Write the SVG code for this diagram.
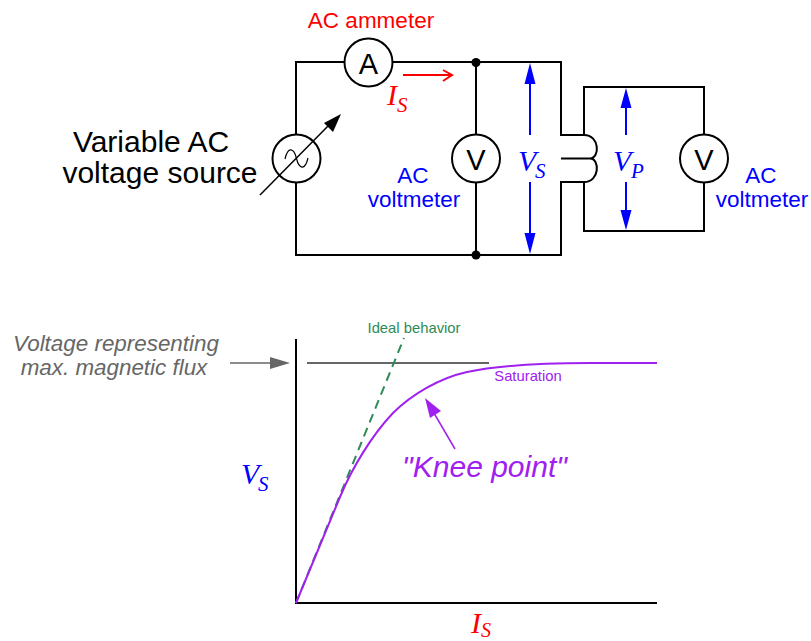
<svg xmlns="http://www.w3.org/2000/svg" width="811" height="641" viewBox="0 0 811 641">
<style>
text{font-family:"Liberation Sans",Arial,sans-serif}
.w{fill:none;stroke:#000;stroke-width:2}
.c{fill:#fff;stroke:#000;stroke-width:2}
.s{font-family:"Liberation Serif","Times New Roman",serif;font-style:italic}
.bl{fill:#0000ff}
.b{stroke:#0000ff;stroke-width:2;fill:none}
</style>
<rect width="811" height="641" fill="#fff"/>
<g id="connectors">
<path class="w" d="M345 62H296V255H561V182H584V231H704V182M704 135V87H584V135H561V62H393M476 62V137M476 182V255M561 158.500H590"/>
<path class="w" d="M584 135C600 135 600 158.500 590 158.500C600 158.500 600 182 584 182"/>
<circle cx="476" cy="62.500" r="4.500"/><circle cx="476" cy="255" r="4.500"/>
<path d="M403 75H452M443 70L452 75L443 81" fill="none" stroke="#ff0000" stroke-width="2"/>
<path class="b" d="M530 135V75M530 182V240M626 135V100M626 182V217"/>
<path class="bl" d="M530 63L524.500 84H535.500ZM530 254L524.500 233H535.500ZM626 88L620.500 108H631.500ZM626 230L620.500 210H631.500Z"/>
</g>
<g id="source"><circle class="c" cx="296.500" cy="158.500" r="24"/><path d="M285 159C288 146 294 148 296.500 158.500C299 169 305 171 308 158" fill="none" stroke="#000" stroke-width="1.200"/><path d="M260 195L330 124" stroke="#000" stroke-width="1.500" fill="none"/><path d="M341 114L324 123L333 132Z"/><text x="151" y="152" font-size="30" text-anchor="middle">Variable AC</text><text x="160" y="183" font-size="30" text-anchor="middle">voltage source</text></g>
<g id="ammeter"><circle class="c" cx="368.500" cy="62.500" r="24"/><text x="368.500" y="74" font-size="29" text-anchor="middle">A</text><text x="371" y="28" font-size="22.500" fill="#ff0000" text-anchor="middle">AC ammeter</text></g>
<g id="is-top"><text class="s" x="387" y="105" font-size="30" fill="#ff0000">I</text><text class="s" x="397" y="112" font-size="21" fill="#ff0000">S</text></g>
<g id="voltmeter-1"><circle class="c" cx="476" cy="158.500" r="24"/><text x="476" y="170" font-size="29" text-anchor="middle">V</text><text x="413" y="183" font-size="22.500" fill="#0000ff" text-anchor="middle">AC</text><text x="414" y="207" font-size="22.500" fill="#0000ff" text-anchor="middle">voltmeter</text></g>
<g id="vs-top"><text class="s bl" x="518" y="171" font-size="30">V</text><text class="s bl" x="535" y="178" font-size="21">S</text></g>
<g id="vp"><text class="s bl" x="613" y="171" font-size="30">V</text><text class="s bl" x="631" y="178" font-size="21">P</text></g>
<g id="voltmeter-2"><circle class="c" cx="704" cy="158.500" r="24"/><text x="704" y="170" font-size="29" text-anchor="middle">V</text><text x="761" y="183" font-size="22.500" fill="#0000ff" text-anchor="middle">AC</text><text x="762" y="207" font-size="22.500" fill="#0000ff" text-anchor="middle">voltmeter</text></g>
<g id="graph">
<path class="w" d="M296 339V603H657"/>
<path d="M307 363H489" stroke="#666" stroke-width="2" fill="none"/>
<path d="M230 363H272" stroke="#666" stroke-width="1.500" fill="none"/><path d="M290 363L270 357V369Z" fill="#666"/>
<path d="M296 603L404 338" stroke="#2e8b57" stroke-width="2" stroke-dasharray="9 6" fill="none"/>
<path d="M296 603L340 497C352 468 372 435 393 413C412 394 440 378 467 372C500 365 540 363 590 363H657" stroke="#a020f0" stroke-width="2" fill="none"/>
<path d="M455 449L431 408" stroke="#a020f0" stroke-width="1.500" fill="none"/><path d="M425 398L430 418L441 411Z" fill="#a020f0"/>
<text x="414" y="333" font-size="14.800" fill="#2e8b57" text-anchor="middle">Ideal behavior</text>
<text x="528" y="381" font-size="14.800" fill="#a020f0" text-anchor="middle">Saturation</text>
<text x="116" y="351" font-size="22.400" font-style="italic" fill="#666" text-anchor="middle">Voltage representing</text>
<text x="114" y="375" font-size="22.400" font-style="italic" fill="#666" text-anchor="middle">max. magnetic flux</text>
<text x="484.500" y="477" font-size="30" font-style="italic" fill="#a020f0" text-anchor="middle">"Knee point"</text>
<text class="s bl" x="241" y="484" font-size="30">V</text><text class="s bl" x="258" y="491" font-size="21">S</text>
<text class="s" x="471" y="633" font-size="30" fill="#ff0000">I</text><text class="s" x="481" y="636.500" font-size="20" fill="#ff0000">S</text>
</g>
</svg>
